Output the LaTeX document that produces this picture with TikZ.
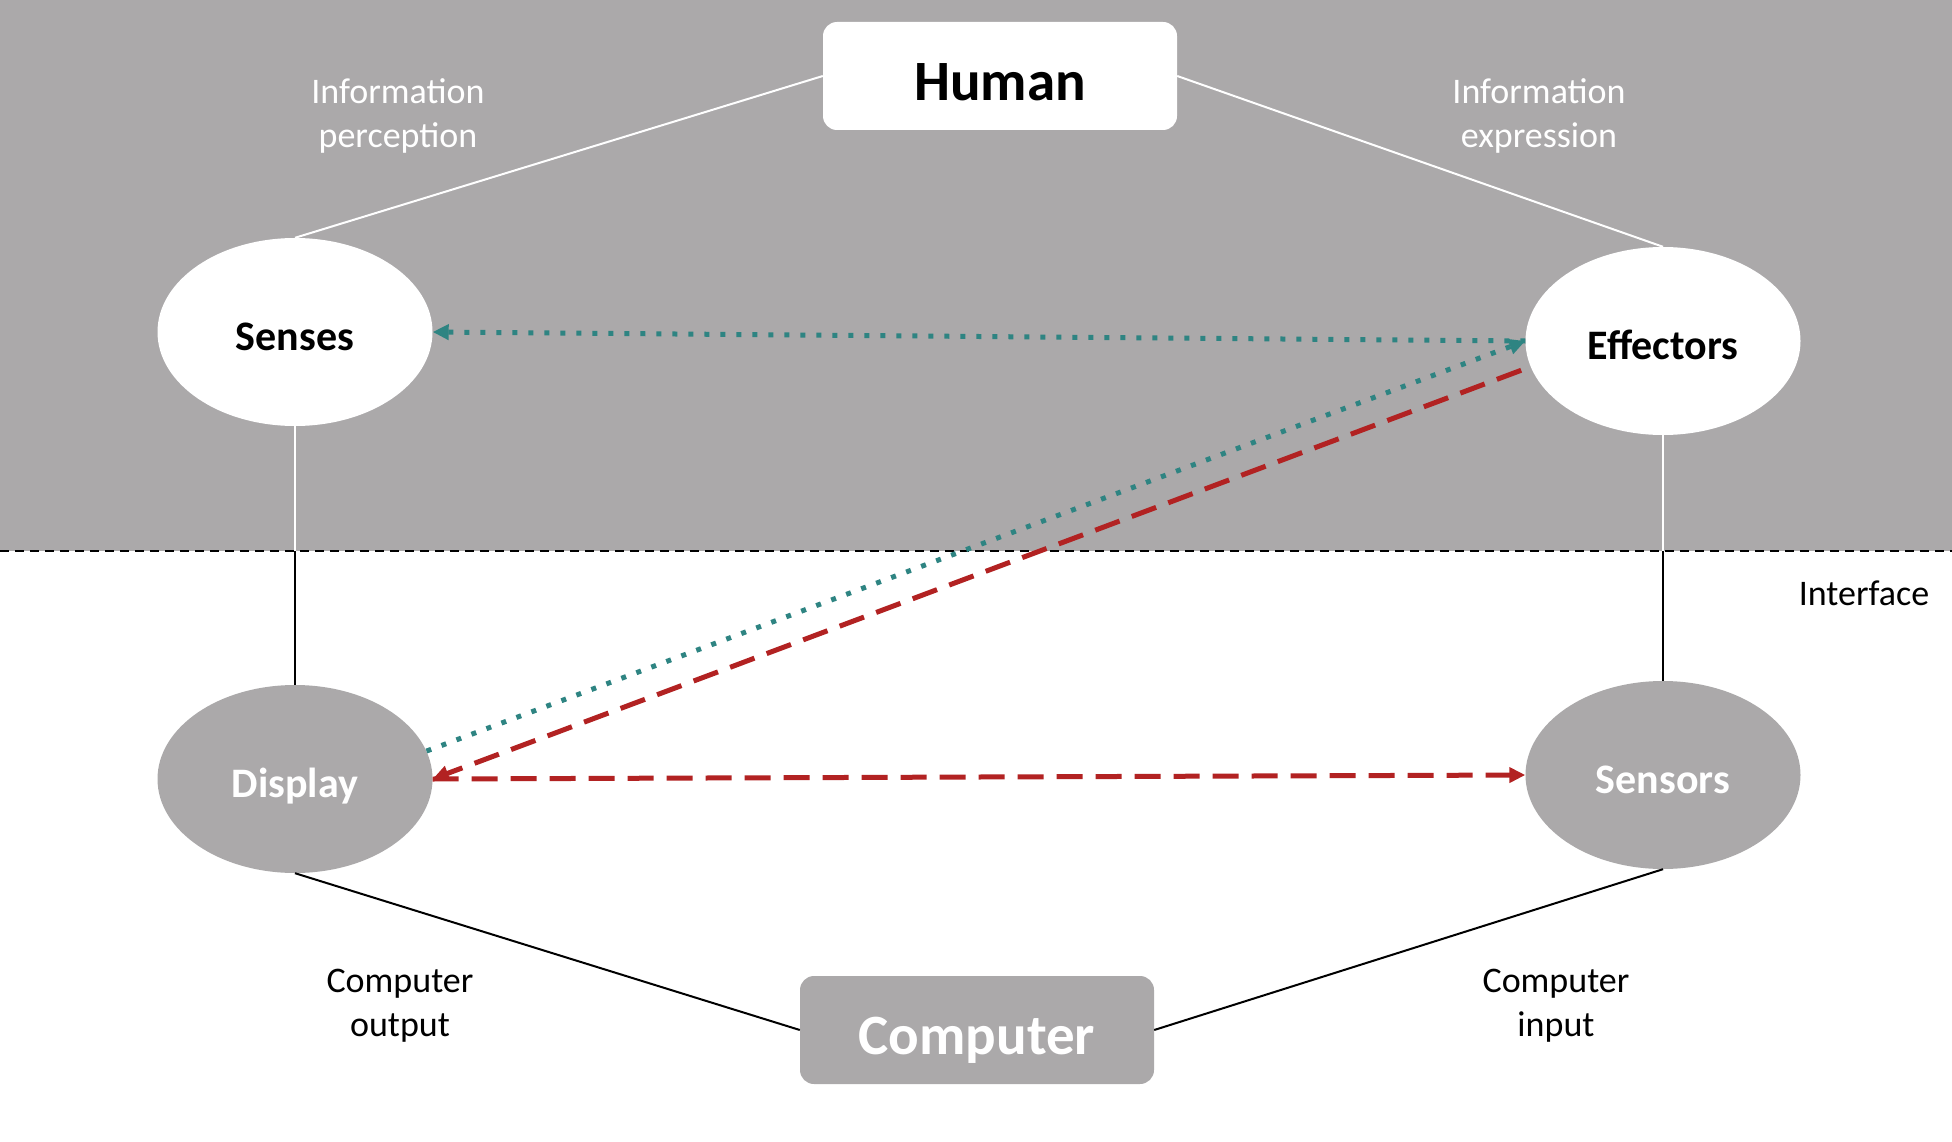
\documentclass[tikz,border=0pt]{standalone}
\usepackage{fontspec}
\setmainfont{Carlito}
\usetikzlibrary{shapes.geometric,arrows.meta}
\definecolor{bandgray}{RGB}{171,169,170}
\definecolor{tealdot}{RGB}{46,132,130}
\definecolor{reddash}{RGB}{178,34,34}

\begin{document}
\begin{tikzpicture}[x=1pt,y=-1pt,
  box/.style={rounded corners=14pt,minimum width=354pt,minimum height=108pt,text height=49pt,text depth=0pt,font=\fontsize{57}{68}\selectfont\bfseries},
  organ/.style={ellipse,minimum width=275pt,minimum height=188pt,inner sep=0pt,text height=37pt,text depth=0pt,font=\fontsize{42}{50}\selectfont\bfseries},
  lbl/.style={align=center,font=\fontsize{36}{44}\selectfont},
  wline/.style={white,line width=2pt},
  bline/.style={black,line width=2pt},
  tealflow/.style={tealdot,line width=5pt,dash pattern=on 5pt off 11pt,-{Triangle[length=16pt,width=15pt]}},
  redflow/.style={reddash,line width=5pt,dash pattern=on 26pt off 13pt,-{Triangle[length=16pt,width=15pt]}}]
  \useasboundingbox (0,0) rectangle (1952,1142);

  % Draw the human side
  \fill[bandgray] (0,0) rectangle (1952,551);
  \coordinate (ifl) at (0,551);
  \coordinate (ifr) at (1952,551);
  \draw[line width=1.5pt,dash pattern=on 9pt off 6pt] (ifl) -- (ifr);

  % Draw the boxes and ellipses
  \node[box,fill=white] (Human) at (1000,76) {Human};
  \node[box,fill=bandgray,text=white] (Computer) at (977,1030) {Computer};
  \node[organ,fill=white] (Senses) at (295,332) {Senses};
  \node[organ,fill=white] (Effectors) at (1663,341) {Effectors};
  \node[organ,fill=bandgray,text=white] (Display) at (295,779) {Display};
  \node[organ,fill=bandgray,text=white] (Sensors) at (1663,775) {Sensors};

  % Draw the links
  \draw[wline] (Human.west) -- (Senses.north);
  \draw[wline] (Human.east) -- (Effectors.north);
  \draw[wline] (Senses.south) -- (Senses.south |- ifl);
  \draw[bline] (Senses.south |- ifl) -- (Display.north);
  \draw[wline] (Effectors.south) -- (Effectors.south |- ifl);
  \draw[bline] (Effectors.south |- ifl) -- (Sensors.north);
  \draw[bline] (Display.south) -- (Computer.west);
  \draw[bline] (Sensors.south) -- (Computer.east);

  % Draw the flows
  \draw[tealflow] (Effectors.west) -- (Senses.east);
  \draw[tealflow] (Display.12) -- (Effectors.west);
  \draw[redflow,shorten <=10pt] (Effectors.191) -- (Display.east);
  \draw[redflow] (Display.east) -- (Sensors.west);

  % Label it
  \node[lbl,white] (percep) at (398,116) {Information\\perception};
  \node[lbl,white] (express) at (1539,116) {Information\\expression};
  \node[lbl] (cout) at (400,1006) {Computer\\output};
  \node[lbl] (cin) at (1556,1006) {Computer\\input};
  \node[lbl] (iface) at (1864,593) {Interface};
\end{tikzpicture}
\end{document}
